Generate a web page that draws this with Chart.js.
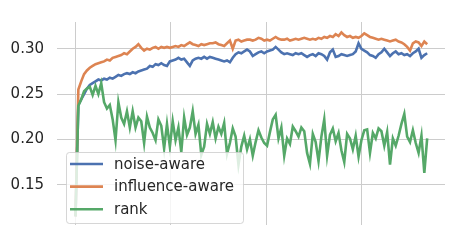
<!DOCTYPE html>
<html>
<head>
<meta charset="utf-8">
<style>
  body { margin: 0; background: #fff; }
  canvas { display: block; }
</style>
</head>
<body>
<canvas id="lossChart" width="460" height="247"></canvas>
<script src="https://cdn.jsdelivr.net/npm/chart.js"></script>
<script>
// values, one every 3 epochs (0 .. 369)
const epochStep = 3;
const seriesNames = ['noise-aware', 'influence-aware', 'rank'];
const seriesColors = ['#4C72B0', '#DD8452', '#55A868'];
const yTicks = [0.15, 0.20, 0.25, 0.30];
const xTicks = [0, 100, 200, 300];

const noiseAware = [
  0.115, 0.238, 0.244, 0.250, 0.256, 0.260, 0.262, 0.264, 0.266, 0.265,
  0.267, 0.266, 0.268, 0.267, 0.269, 0.271, 0.270, 0.272, 0.273, 0.272,
  0.274, 0.273, 0.275, 0.276, 0.277, 0.278, 0.281, 0.280, 0.283, 0.282,
  0.284, 0.282, 0.281, 0.286, 0.287, 0.288, 0.290, 0.288, 0.289, 0.285,
  0.281, 0.287, 0.289, 0.290, 0.289, 0.291, 0.289, 0.291, 0.290, 0.289,
  0.288, 0.287, 0.286, 0.287, 0.285, 0.290, 0.294, 0.296, 0.295, 0.297,
  0.299, 0.297, 0.292, 0.294, 0.296, 0.297, 0.295, 0.297, 0.298, 0.299,
  0.302, 0.299, 0.296, 0.294, 0.295, 0.294, 0.293, 0.295, 0.294, 0.295,
  0.293, 0.291, 0.293, 0.294, 0.292, 0.295, 0.294, 0.292, 0.288, 0.296,
  0.299, 0.291, 0.292, 0.294, 0.293, 0.292, 0.293, 0.294, 0.297, 0.306,
  0.300, 0.298, 0.296, 0.293, 0.292, 0.290, 0.294, 0.296, 0.300, 0.296,
  0.292, 0.295, 0.297, 0.294, 0.295, 0.293, 0.294, 0.292, 0.295, 0.297,
  0.300, 0.290, 0.293, 0.295
];
const influenceAware = [
  0.115, 0.255, 0.264, 0.272, 0.276, 0.279, 0.281, 0.283, 0.284, 0.285,
  0.286, 0.288, 0.287, 0.290, 0.291, 0.292, 0.293, 0.295, 0.294, 0.297,
  0.300, 0.302, 0.305, 0.301, 0.298, 0.300, 0.299, 0.301, 0.302, 0.300,
  0.302, 0.301, 0.302, 0.301, 0.302, 0.303, 0.302, 0.304, 0.303, 0.305,
  0.307, 0.305, 0.304, 0.303, 0.305, 0.304, 0.305, 0.306, 0.306, 0.307,
  0.305, 0.304, 0.303, 0.306, 0.309, 0.300, 0.309, 0.310, 0.308, 0.309,
  0.310, 0.310, 0.309, 0.310, 0.312, 0.311, 0.309, 0.310, 0.309, 0.311,
  0.313, 0.311, 0.310, 0.310, 0.311, 0.309, 0.310, 0.311, 0.310, 0.311,
  0.312, 0.311, 0.310, 0.311, 0.310, 0.312, 0.311, 0.313, 0.312, 0.314,
  0.313, 0.316, 0.314, 0.318, 0.315, 0.313, 0.314, 0.312, 0.313, 0.312,
  0.314, 0.317, 0.315, 0.313, 0.312, 0.311, 0.310, 0.311, 0.310, 0.309,
  0.308, 0.309, 0.310, 0.308, 0.307, 0.305, 0.302, 0.298, 0.306, 0.308,
  0.307, 0.303, 0.308, 0.305
];
const rank = [
  0.115, 0.237, 0.244, 0.253, 0.256, 0.258, 0.249, 0.259, 0.250, 0.262,
  0.241, 0.234, 0.238, 0.222, 0.199, 0.241, 0.224, 0.217, 0.231, 0.213,
  0.231, 0.213, 0.224, 0.220, 0.196, 0.225, 0.213, 0.207, 0.199, 0.222,
  0.215, 0.190, 0.217, 0.192, 0.220, 0.199, 0.213, 0.186, 0.224, 0.205,
  0.213, 0.231, 0.206, 0.216, 0.183, 0.192, 0.217, 0.206, 0.219, 0.201,
  0.214, 0.206, 0.218, 0.184, 0.196, 0.212, 0.203, 0.172, 0.192, 0.204,
  0.189, 0.200, 0.182, 0.197, 0.210, 0.202, 0.196, 0.193, 0.208, 0.222,
  0.227, 0.201, 0.213, 0.182, 0.201, 0.195, 0.214, 0.209, 0.203, 0.213,
  0.209, 0.185, 0.173, 0.206, 0.197, 0.176, 0.203, 0.222, 0.182, 0.205,
  0.212, 0.198, 0.207, 0.188, 0.175, 0.206, 0.201, 0.189, 0.204, 0.181,
  0.199, 0.210, 0.211, 0.185, 0.207, 0.201, 0.212, 0.209, 0.193, 0.208,
  0.172, 0.201, 0.193, 0.204, 0.217, 0.228, 0.203, 0.197, 0.210, 0.196,
  0.185, 0.204, 0.163, 0.201
];

const allSeries = [noiseAware, influenceAware, rank];
const textColor = '#262626';
const gridColor = '#cccccc';
const fontFamily = '"DejaVu Sans", sans-serif';

// matplotlib-style legend box in the lower left of the axes
const boxLegend = {
  id: 'boxLegend',
  afterDatasetsDraw(chart) {
    const ctx = chart.ctx;
    const x = 66, y = 152, w = 177, h = 71, r = 3;
    ctx.save();
    ctx.beginPath();
    ctx.roundRect(x + 0.5, y + 0.5, w, h, r);
    ctx.fillStyle = 'rgba(255,255,255,0.8)';
    ctx.fill();
    ctx.strokeStyle = 'rgba(204,204,204,0.8)';
    ctx.lineWidth = 1;
    ctx.stroke();
    ctx.font = '15px ' + fontFamily;
    ctx.textBaseline = 'middle';
    seriesNames.forEach((name, i) => {
      const cy = 164 + i * 22.6;
      ctx.beginPath();
      ctx.moveTo(70, cy);
      ctx.lineTo(103, cy);
      ctx.strokeStyle = seriesColors[i];
      ctx.lineWidth = 2.6;
      ctx.stroke();
      ctx.fillStyle = textColor;
      ctx.fillText(name, 114, cy + 1);
    });
    ctx.restore();
  }
};

const ctx = document.getElementById('lossChart').getContext('2d');
new Chart(ctx, {
  type: 'line',
  data: {
    datasets: allSeries.map((vals, i) => ({
      label: seriesNames[i],
      data: vals.map((v, k) => ({ x: k * epochStep, y: v })),
      borderColor: seriesColors[i],
      borderWidth: 2.6,
      pointRadius: 0,
      tension: 0,
      fill: false,
      order: allSeries.length - i
    }))
  },
  options: {
    responsive: false,
    animation: false,
    layout: { padding: { left: 0, right: 15, top: 15, bottom: 17 } },
    plugins: {
      legend: { display: false },
      tooltip: { enabled: false }
    },
    scales: {
      x: {
        type: 'linear',
        min: -19.4,
        max: 387.7,
        afterBuildTicks: s => { s.ticks = xTicks.map(v => ({ value: v })); },
        afterFit: s => { s.height = 0; },
        ticks: { display: false },
        grid: { color: gridColor, lineWidth: 1, drawTicks: false },
        border: { display: false }
      },
      y: {
        min: 0.1055,
        max: 0.3295,
        afterBuildTicks: s => { s.ticks = yTicks.map(v => ({ value: v })); },
        afterFit: s => { s.width = 57; },
        ticks: {
          padding: 13,
          color: textColor,
          font: { family: fontFamily, size: 15 },
          callback: v => v.toFixed(2)
        },
        grid: { color: gridColor, lineWidth: 1, drawTicks: false },
        border: { display: false }
      }
    }
  },
  plugins: [boxLegend]
});
</script>
</body>
</html>
